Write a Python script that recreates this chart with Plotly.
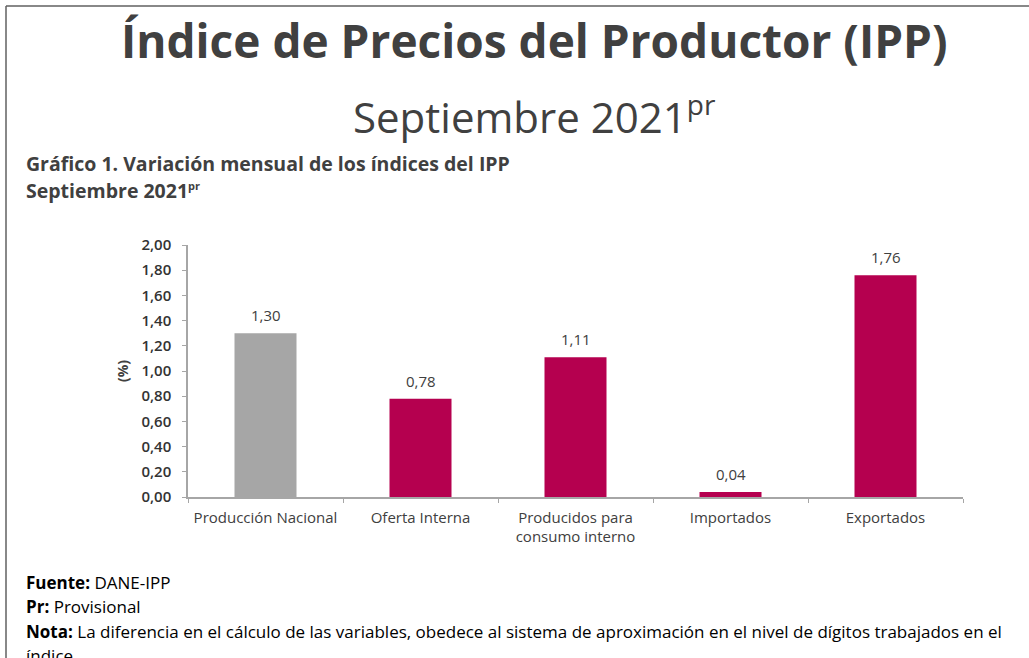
import plotly.graph_objects as go

categories = ["Producción Nacional", "Oferta Interna", "Producidos para<br>consumo interno", "Importados", "Exportados"]
values = [1.30, 0.78, 1.11, 0.04, 1.76]
labels = ["1,30", "0,78", "1,11", "0,04", "1,76"]
bar_colors = ["#A6A6A6", "#B5004F", "#B5004F", "#B5004F", "#B5004F"]
ytick_vals = [0.0, 0.2, 0.4, 0.6, 0.8, 1.0, 1.2, 1.4, 1.6, 1.8, 2.0]
ytick_text = ["0,00", "0,20", "0,40", "0,60", "0,80", "1,00", "1,20", "1,40", "1,60", "1,80", "2,00"]

W, H = 1029, 658
L, R, T, B = 188, 66, 245, 161
pw, ph = W - L - R, H - T - B

def px(x):
    return (x - L) / pw

def py(y):
    return (H - B - y) / ph

txt = "#404040"
font = "Open Sans"

fig = go.Figure(go.Bar(
    x=categories, y=values, marker=dict(color=bar_colors, line=dict(width=0)),
    width=0.4,
))

for c, v, lab in zip(categories, values, labels):
    fig.add_annotation(x=c, y=v, text=lab, showarrow=False, xanchor="center",
                       yanchor="bottom", yshift=6,
                       font=dict(family=font, size=15, color=txt))

fig.update_layout(
    width=W, height=H, margin=dict(l=L, r=R, t=T, b=B),
    paper_bgcolor="white", plot_bgcolor="white", showlegend=False,
    font=dict(family=font, color=txt),
    xaxis=dict(showline=True, linecolor="#A6A6A6", linewidth=1.5, ticks="outside",
               tickson="boundaries", ticklen=4, tickcolor="#A6A6A6", ticklabelstandoff=6,
               tickfont=dict(family=font, size=15, color=txt), showgrid=False),
    yaxis=dict(range=[0, 2.0], tickvals=ytick_vals, ticktext=ytick_text,
               showline=True, linecolor="#A6A6A6", linewidth=1.5, ticks="outside",
               ticklen=4, tickcolor="#A6A6A6", showgrid=False, zeroline=False,
               ticklabelstandoff=8,
               tickfont=dict(family=font, size=15, color="#333333", weight=600),
               title=dict(text="<b>(%)</b>", font=dict(family=font, size=14, color=txt), standoff=10)),
    bargap=0.6,
)

annos = [
    dict(text="<b>Índice de Precios del Productor (IPP)</b>", x=px(534), y=py(40), size=46),
    dict(text="Septiembre 2021<sup><span style='font-size:28px'>pr</span></sup>", x=px(534), y=py(115), size=42),
]
for a in annos:
    fig.add_annotation(text=a["text"], x=a["x"], y=a["y"], xref="paper", yref="paper",
                       xanchor="center", yanchor="middle", showarrow=False,
                       font=dict(family=font, size=a["size"], color=txt))

left_texts = [
    ("<b>Gráfico 1. Variación mensual de los índices del IPP</b>", 163, 19.5),
    ("<b>Septiembre 2021<sup><span style='font-size:11px'>pr</span></sup></b>", 190, 19.5),
    ("<b>Fuente:</b> DANE-IPP", 582, 17),
    ("<b>Pr:</b> Provisional", 606, 17),
    ("<b>Nota:</b> La diferencia en el cálculo de las variables, obedece al sistema de aproximación en el nivel de dígitos trabajados en el", 631, 17),
    ("índice.", 655, 17),
]
for t, y, s in left_texts:
    fig.add_annotation(text=t, x=px(24), y=py(y), xref="paper", yref="paper",
                       xanchor="left", yanchor="middle", showarrow=False,
                       font=dict(family=font, size=s, color=txt if s == 19.5 else "#000000"))

fig.add_shape(type="line", xref="paper", yref="paper", x0=px(6), x1=px(6), y0=py(6), y1=py(660),
              line=dict(color="#606060", width=1.5))
fig.add_shape(type="line", xref="paper", yref="paper", x0=px(6), x1=px(1030), y0=py(6), y1=py(6),
              line=dict(color="#606060", width=1.5))

fig.write_html("out.html")
